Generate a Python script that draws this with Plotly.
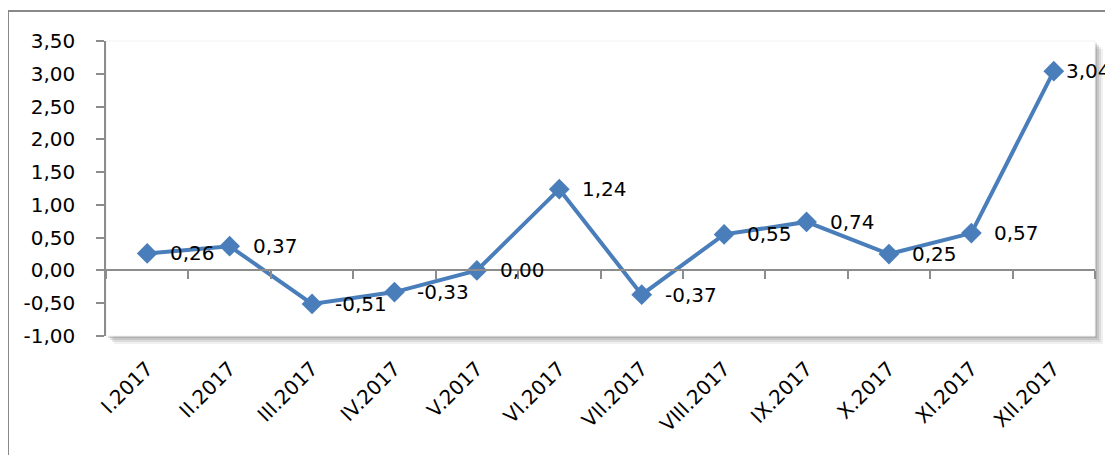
import plotly.graph_objects as go

categories = ["I.2017", "II.2017", "III.2017", "IV.2017", "V.2017", "VI.2017",
              "VII.2017", "VIII.2017", "IX.2017", "X.2017", "XI.2017", "XII.2017"]
values = [0.26, 0.37, -0.51, -0.33, 0.00, 1.24, -0.37, 0.55, 0.74, 0.25, 0.57, 3.04]
y_ticks = [-1.0, -0.5, 0.0, 0.5, 1.0, 1.5, 2.0, 2.5, 3.0, 3.5]

# page body has an 8px margin; figure is sized to fill the rest of the window
OFF = 8
W, H = 1113 - OFF, 455 - OFF
L, R, T, B = 106 - OFF, 1113 - 1095, 41 - OFF, 455 - 336
pw, ph = W - L - R, H - T - B

def px(x):  # x in window pixels -> paper
    return (x - OFF - L) / pw

def py(y):  # y in window pixels -> paper
    return (H - B - (y - OFF)) / ph

FONT = "DejaVu Sans"
FS = 20
BLUE = "#4a7ebb"
AXIS = "#8c8c8c"

def fmt(v):
    return f"{v:.2f}".replace(".", ",")

fig = go.Figure()
fig.add_trace(go.Scatter(
    x=categories, y=values, mode="lines+markers",
    line=dict(color=BLUE, width=4),
    marker=dict(symbol="diamond", size=16, color=BLUE),
    hoverinfo="skip", showlegend=False))
# invisible helper trace so the crossing category axis (x2) is rendered
fig.add_trace(go.Scatter(
    x=categories, y=values, xaxis="x2", mode="lines",
    line=dict(width=0), hoverinfo="skip", showlegend=False))

for c, v in zip(categories, values):
    fig.add_annotation(x=c, y=v, text=fmt(v), showarrow=False, xanchor="left",
                       yanchor="middle", xshift=21 if c != categories[-1] else 10,
                       font=dict(family=FONT, size=FS, color="#000000"))

shapes = []
# outer chart border
shapes.append(dict(type="rect", xref="paper", yref="paper",
                   x0=px(8), x1=px(1140), y0=py(480), y1=py(11),
                   line=dict(color="#898989", width=2), fillcolor="white", layer="below"))
# plot area shadow
for off, op in [(8, 0.10), (6, 0.15), (4, 0.2), (2, 0.25)]:
    shapes.append(dict(type="rect", xref="paper", yref="paper",
                       x0=px(106 + off), x1=px(1095 + off), y0=py(336 + off), y1=py(41 + off),
                       line=dict(width=0), fillcolor=f"rgba(110,110,110,{op})", layer="below"))
shapes.append(dict(type="rect", xref="paper", yref="paper",
                   x0=0, x1=1, y0=0, y1=1,
                   line=dict(color="#f2f2f2", width=1), fillcolor="white", layer="below"))

fig.update_layout(
    width=W, height=H,
    margin=dict(l=L, r=R, t=T, b=B),
    paper_bgcolor="white", plot_bgcolor="white",
    separators=", ",
    shapes=shapes,
    font=dict(family=FONT, size=FS, color="#000000"),
    xaxis=dict(type="category", range=[-0.5, 11.5], showline=False, ticks="",
               showgrid=False, zeroline=False, tickangle=-45,
               tickfont=dict(family=FONT, size=FS, color="#000000"),
               ticklabelstandoff=16),
    xaxis2=dict(type="category", range=[-0.5, 11.5], overlaying="x", anchor="free",
                position=1.0 / 4.5, side="bottom",
                showline=True, linecolor=AXIS, linewidth=1.5,
                ticks="outside", ticklen=8, tickcolor=AXIS, tickwidth=1.5,
                tickson="boundaries", showticklabels=False, showgrid=False, zeroline=False),
    yaxis=dict(range=[-1.0, 3.5], tickvals=y_ticks, ticktext=[fmt(v) for v in y_ticks],
               showline=True, linecolor=AXIS, linewidth=1.5,
               ticks="outside", ticklen=8, tickcolor=AXIS, tickwidth=1.5,
               showgrid=False, zeroline=False,
               tickfont=dict(family=FONT, size=FS, color="#000000"),
               ticklabelstandoff=17),
)

fig.write_html("out.html")
